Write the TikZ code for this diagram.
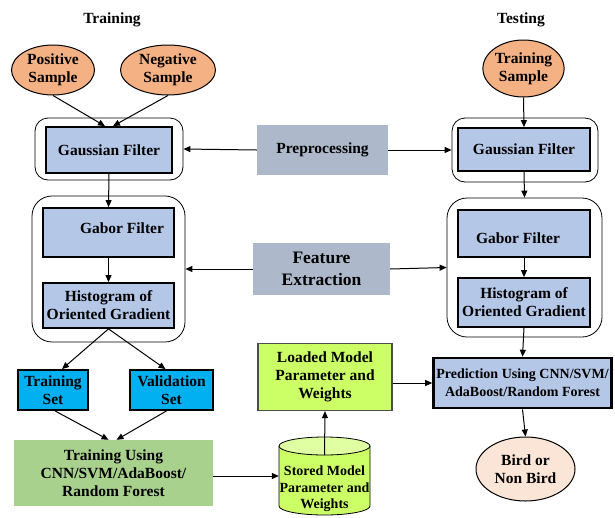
\documentclass[tikz,border=0pt]{standalone}
\usepackage{fontspec}
\setmainfont{Liberation Serif}
\usetikzlibrary{arrows.meta,shapes.geometric}
\definecolor{orng}{HTML}{F4B183}
\definecolor{bluebox}{HTML}{B4C7E7}
\definecolor{graybox}{HTML}{ADB9CA}
\definecolor{cyanbox}{HTML}{00B0F0}
\definecolor{greenbox}{HTML}{A9D18E}
\definecolor{limebox}{HTML}{CCFF66}
\definecolor{limetop}{HTML}{E0FFA3}
\definecolor{peach}{HTML}{FBE5D6}
\begin{document}
\begin{tikzpicture}[x=1pt,y=-1pt,
  every node/.style={font=\fontsize{15.5}{18}\selectfont\bfseries, align=center, inner sep=0pt, text=black},
  arr/.style={-{Triangle[length=7pt,width=6pt]}, line width=1pt},
  oval/.style={ellipse, draw=black, line width=1pt, fill=orng},
  innerbox/.style={rectangle, draw=black, line width=1.8pt, fill=bluebox},
  outerbox/.style={rectangle, draw=black, line width=0.8pt, rounded corners=13pt},
  procbox/.style={rectangle, fill=graybox},
  setbox/.style={rectangle, draw=black, line width=1.8pt, fill=cyanbox},
]
\useasboundingbox[fill=white] (0,0) rectangle (615,517);

% titles
\node (trtitle) at (112,20) {Training};
\node (tetitle) at (521,20) {Testing};

% samples
\node[oval, minimum width=83pt, minimum height=50pt] (pos) at (53,70) {Positive\\Sample};
\node[oval, minimum width=95pt, minimum height=50pt] (neg) at (168,70) {Negative\\Sample};
\node[oval, minimum width=79pt, minimum height=57pt] (tsamp) at (523.5,68.5) {Training\\Sample};

% preprocessing stage
\node[outerbox, minimum width=148pt, minimum height=62pt] (gLo) at (109,149) {};
\node[innerbox, minimum width=126pt, minimum height=46pt] (gL) at (109,150) {Gaussian Filter};
\node[procbox, minimum width=131pt, minimum height=50pt] (pre) at (322.5,150) {Preprocessing};
\node[outerbox, minimum width=146pt, minimum height=64pt] (gRo) at (525,150) {};
\node[innerbox, minimum width=132pt, minimum height=43pt] (gR) at (524,149.5) {Gaussian Filter};

% feature extraction stage
\node[outerbox, rounded corners=20pt, minimum width=153pt, minimum height=146pt] (fLo) at (108.5,269) {};
\node[innerbox, minimum width=131pt, minimum height=49pt] (gabL) at (108.5,232.5) {};
\node (gabLt) at (122,228) {Gabor Filter};
\node[innerbox, minimum width=131pt, minimum height=45pt] (hogL) at (108.5,305.5) {Histogram of\\Oriented Gradient};
\node[procbox, minimum width=137pt, minimum height=52pt, font=\fontsize{17.5}{22}\selectfont\bfseries] (fe) at (321.5,269) {Feature\\Extraction};
\node[outerbox, rounded corners=20pt, minimum width=155pt, minimum height=139pt] (fRo) at (524.5,267.5) {};
\node[innerbox, minimum width=132pt, minimum height=47pt] (gabR) at (524,233.5) {};
\node (gabRt) at (518,238) {Gabor Filter};
\node[innerbox, minimum width=132pt, minimum height=49pt] (hogR) at (524,302.5) {Histogram of\\Oriented Gradient};

% training side
\node[setbox, minimum width=70pt, minimum height=40pt] (tset) at (53,390) {Training\\Set};
\node[setbox, minimum width=83pt, minimum height=40pt] (vset) at (171.5,390) {Validation\\Set};
\node[rectangle, fill=greenbox, minimum width=199pt, minimum height=66pt] (tuse) at (113.5,473) {Training Using\\CNN/SVM/AdaBoost/\\Random Forest};

% stored model cylinder
\node[minimum width=91pt, minimum height=78pt] (stored) at (324.5,476) {};
\fill[limebox] (279,446) -- (279,506) arc[start angle=180, end angle=360, x radius=45.5pt, y radius=9pt] -- (370,446) -- cycle;
\draw[line width=0.8pt] (279,446) -- (279,506) arc[start angle=180, end angle=360, x radius=45.5pt, y radius=9pt] -- (370,446);
\draw[line width=0.8pt, fill=limetop] (324.5,446) ellipse[x radius=45.5pt, y radius=9pt];
\node[font=\fontsize{14}{16.5}\selectfont\bfseries] (storedt) at (324.5,489) {Stored Model\\Parameter and\\Weights};
\coordinate (stop) at (324.5,455);

% loaded model
\node[rectangle, draw=black!70, line width=1.2pt, fill=limebox, minimum width=134pt, minimum height=67pt] (loaded) at (325,377) {Loaded Model\\Parameter and\\Weights};

% prediction
\node[rectangle, draw=black, line width=2.6pt, fill=bluebox, minimum width=178pt, minimum height=50pt, font=\fontsize{14}{18}\selectfont\bfseries] (pred) at (522.5,383) {Prediction Using CNN/SVM/\\AdaBoost/Random Forest};
\node[ellipse, draw=black, line width=1pt, fill=peach, minimum width=99pt, minimum height=64pt] (bird) at (525.5,469) {Bird or\\Non Bird};

% connectors
\draw[arr] (pos.south) -- ([xshift=-4pt]gL.north);
\draw[arr] (neg.south) -- ([xshift=4pt]gL.north);
\draw[arr] (pre.west) -- (gLo.east);
\draw[arr] (pre.east) -- (gRo.west);
\draw[arr] (tsamp.south) -- (gR.north);
\draw[arr] (gL.south) -- (gabL.north);
\draw[arr] (gabL.south) -- (hogL.north);
\draw[arr] (gR.south) -- (fRo.north);
\draw[arr] (gabR.south) -- (gabR.south |- hogR.north);
\draw[arr] (fe.west) -- (fLo.east);
\draw[arr] (fe.east) -- (fRo.west);
\draw[arr] (hogL.south) -- ([xshift=9pt]tset.north);
\draw[arr] (hogL.south) -- ([xshift=-6pt]vset.north);
\draw[arr] ([xshift=2pt]tset.south) -- ([xshift=-5pt]tuse.north);
\draw[arr] ([xshift=-5pt]vset.south) -- ([xshift=3pt]tuse.north);
\draw[arr] (tuse.east |- stored.west) -- (stored.west);
\draw[arr] (stop) -- (loaded.south);
\draw[arr] (loaded.east |- pred.west) -- (pred.west);
\draw[arr] (hogR.south) -- (pred.north);
\draw[arr] (pred.south) -- (bird.north);
\end{tikzpicture}
\end{document}
